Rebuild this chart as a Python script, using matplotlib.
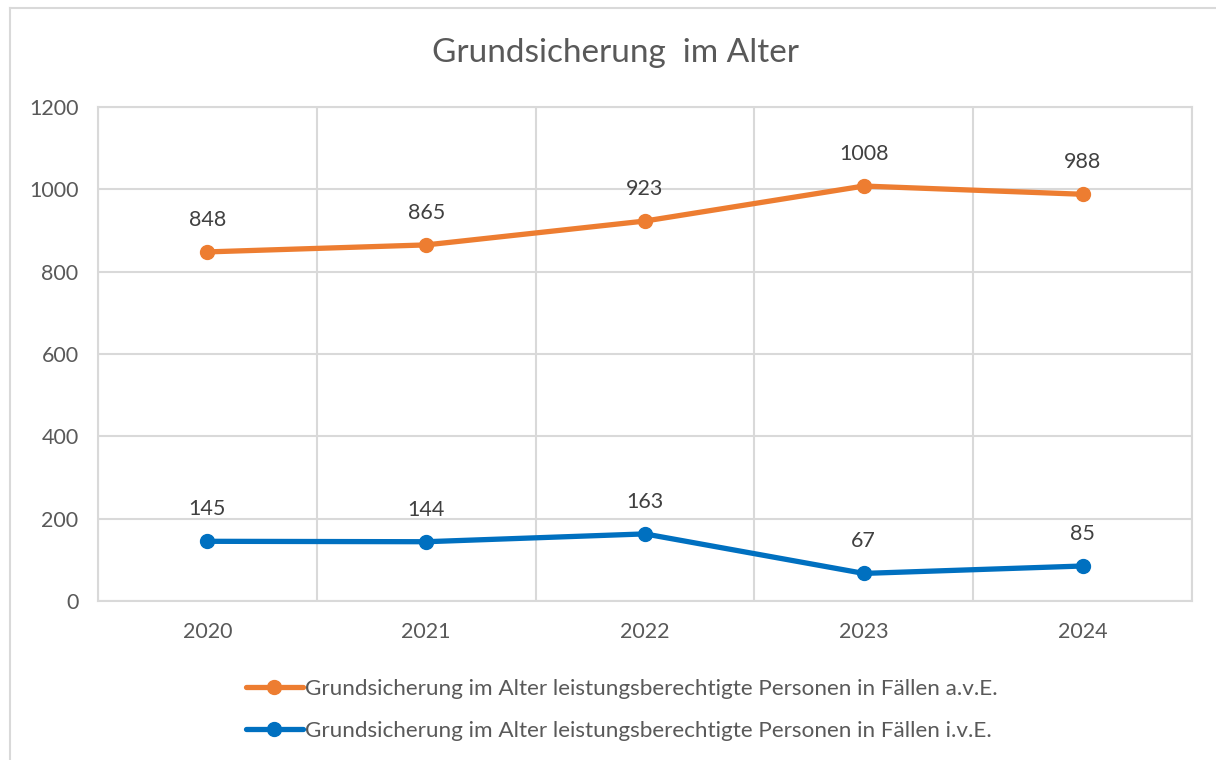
import matplotlib.pyplot as plt
from matplotlib.lines import Line2D
import numpy as np

# Daten
jahre = ['2020', '2021', '2022', '2023', '2024']
ave_werte = [848, 865, 923, 1008, 988]
ive_werte = [145, 144, 163, 67, 85]
label_ave = 'Grundsicherung im Alter leistungsberechtigte Personen in Fällen a.v.E.'
label_ive = 'Grundsicherung im Alter leistungsberechtigte Personen in Fällen i.v.E.'
titel = 'Grundsicherung  im Alter'

plt.rcParams['font.family'] = ['Lato', 'DejaVu Sans']

W, H = 1216, 760
fig = plt.figure(figsize=(W / 100, H / 100), dpi=100)
ax = fig.add_axes([98 / W, 1 - 601 / H, (1192 - 98) / W, (601 - 107) / H])

grid_farbe = '#D9D9D9'
text_farbe = '#595959'

x = np.arange(len(jahre))
for werte, farbe, label in [(ave_werte, '#ED7D31', label_ave), (ive_werte, '#0070C0', label_ive)]:
    ax.plot(x, werte, color=farbe, lw=3.8, marker='o', ms=10, label=label,
            solid_capstyle='round', zorder=3)
    for xi, v in zip(x, werte):
        ax.annotate(str(v), (xi, v), xytext=(0, 23), textcoords='offset points',
                    ha='center', va='center', fontsize=15.5, color='#404040')

ax.set_xlim(-0.5, len(jahre) - 0.5)
ax.set_ylim(0, 1200)
ax.set_yticks(range(0, 1201, 200))
ax.set_xticks(x)
ax.set_xticklabels(jahre)
ax.set_xticks(np.arange(-0.5, len(jahre), 1), minor=True)

ax.grid(axis='y', color=grid_farbe, lw=1.5)
ax.grid(axis='x', which='minor', color=grid_farbe, lw=1.5)
ax.set_axisbelow(True)
for s in ax.spines.values():
    s.set_color(grid_farbe)
    s.set_linewidth(1.5)
ax.tick_params(which='both', length=0)
ax.tick_params(axis='both', labelsize=15.5, labelcolor=text_farbe)
ax.tick_params(axis='x', pad=15)
ax.tick_params(axis='y', pad=14)

fig.text(615 / W, 1 - 53 / H, titel, ha='center', va='center', fontsize=24, color=text_farbe)

fig.legend(loc='upper left', bbox_to_anchor=(226 / W, 1 - 659 / H), frameon=False,
           fontsize=16.2, handlelength=2.5, handletextpad=0.12, labelspacing=0.98,
           labelcolor=text_farbe)

# Rahmen (nur oben und links sichtbar)
fig.add_artist(Line2D([10 / W, 10 / W], [0, 1 - 8 / H], color=grid_farbe, lw=1.5))
fig.add_artist(Line2D([10 / W, 1], [1 - 8 / H, 1 - 8 / H], color=grid_farbe, lw=1.5))

fig.savefig('out.png', dpi=100)
